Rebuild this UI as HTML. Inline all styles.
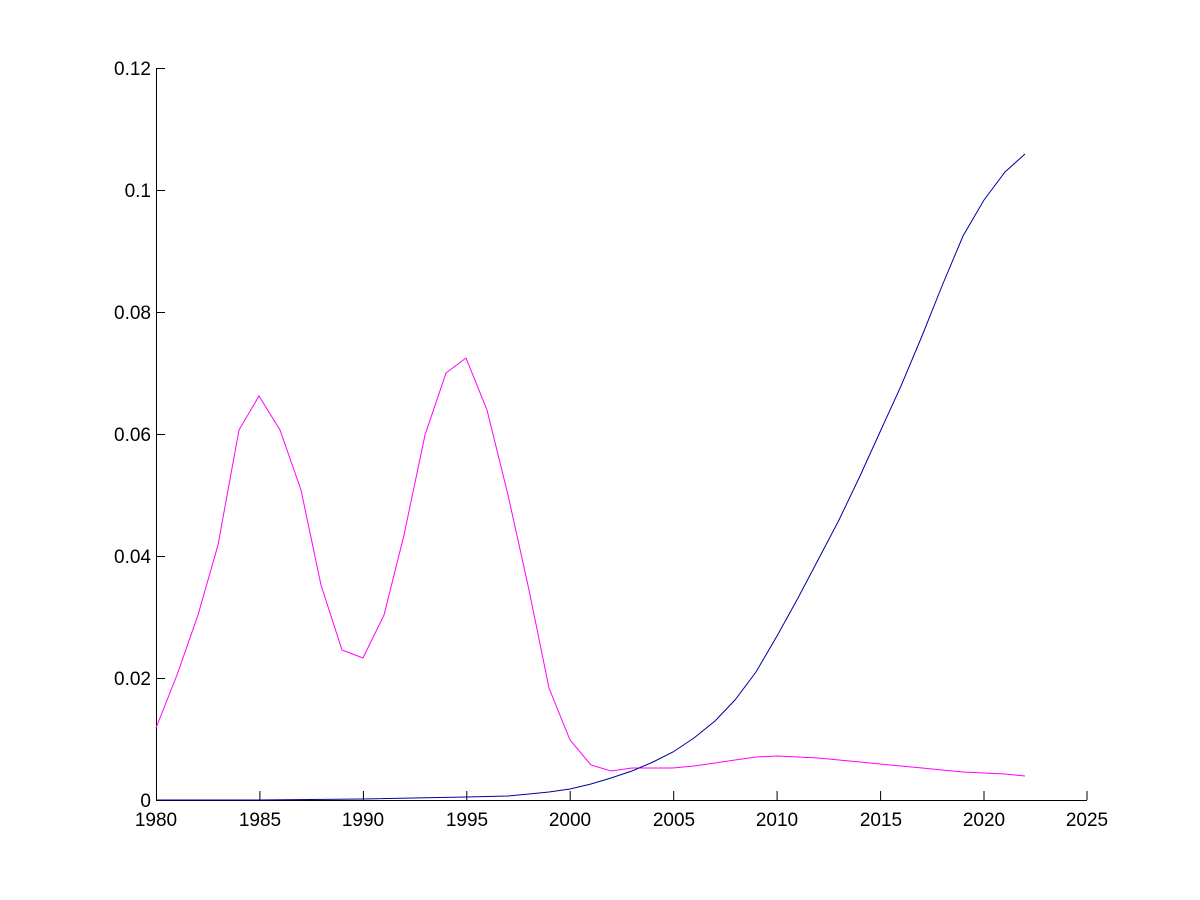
<!DOCTYPE html>
<html><head><style>body{margin:0;background:#fff}svg{display:block}text{font-family:"Liberation Sans",Arial,sans-serif;font-size:19px;fill:#000}</style></head><body>
<svg width="1200" height="900" viewBox="0 0 1200 900">
<rect width="1200" height="900" fill="#fff"/>
<g stroke="#000" stroke-width="1" fill="none">
<line x1="156.5" y1="68" x2="156.5" y2="800.5"/>
<line x1="156" y1="800.5" x2="1087" y2="800.5"/>
<path d="M156.5 800v-9M259.9 800v-9M363.4 800v-9M466.8 800v-9M570.2 800v-9M673.7 800v-9M777.1 800v-9M880.6 800v-9M984 800v-9M1087 800v-9"/>
<path d="M156 68.5h9M156 190.5h9M156 312.5h9M156 434.5h9M156 556.5h9M156 678.5h9"/>
</g>
<g text-anchor="end">
<text x="151" y="75">0.12</text><text x="151" y="197">0.1</text><text x="151" y="319">0.08</text><text x="151" y="441">0.06</text><text x="151" y="563">0.04</text><text x="151" y="685">0.02</text><text x="151" y="807">0</text>
</g>
<g text-anchor="middle">
<text x="156" y="826">1980</text><text x="260" y="826">1985</text><text x="363" y="826">1990</text><text x="467" y="826">1995</text><text x="570" y="826">2000</text><text x="674" y="826">2005</text><text x="777" y="826">2010</text><text x="881" y="826">2015</text><text x="984" y="826">2020</text><text x="1087" y="826">2025</text>
</g>
<polyline fill="none" stroke="#f0f" stroke-width="1" points="156,728 177,675 198,615 218,545 239,430 259,396 280,430 301,490 321,585 342,650 363,658 384,615 404,535 425,435 446,373 466,358 487,410 508,495 529,590 549,688 570,740 591,765 611,771 632,768 653,768 673,768 694,766 715,763 735,760 756,757 777,756 798,757 818,758 839,760 860,762 880,764 901,766 922,768 942,770 963,772 984,773 1005,774 1025,776"/>
<polyline fill="none" stroke="#0000a0" stroke-width="1" points="156,800 259,800 363,799 466,797 508,796 529,794 549,792 570,789 591,784 611,778 632,771 653,762 673,752 694,738 715,721 735,700 756,672 777,636 798,598 818,560 839,520 860,476 880,432 901,386 922,336 942,286 963,236 984,200 1005,172 1025,154"/>
</svg>
</body></html>
